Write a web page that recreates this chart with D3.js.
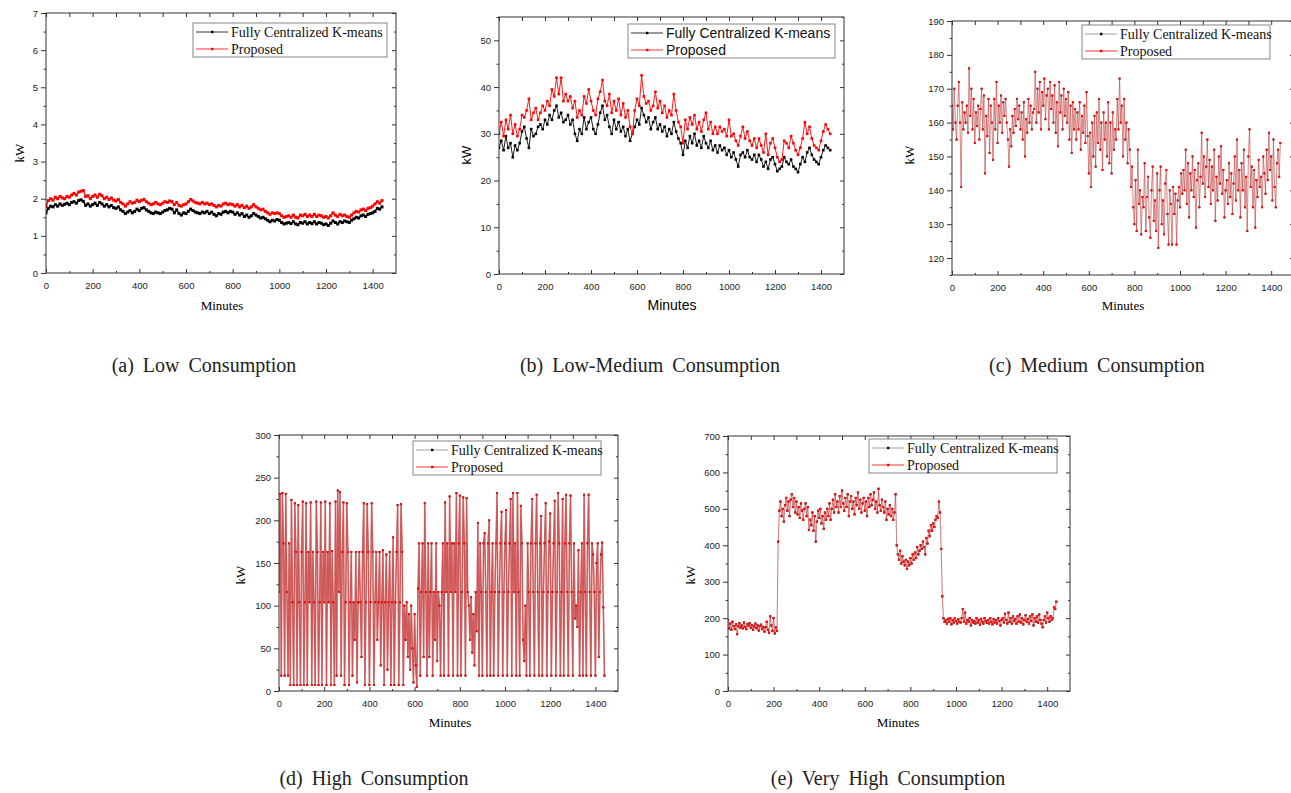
<!DOCTYPE html>
<html>
<head>
<meta charset="utf-8">
<script src="https://cdn.jsdelivr.net/npm/d3@7"></script>
<style>
  body { margin: 0; background: #fff; }
  svg { display: block; }
</style>
</head>
<body>
<div id="chart"></div>
<script>
// Series values read off the picture (kW). Low/low-medium sampled every 10 min,
// the others every 5 min. In (c)-(e) the two series overlap completely.
const lowCentral = [
  1.62,1.74,1.80,1.78,1.84,1.80,1.86,1.82,1.85,1.88,1.84,1.90,1.92,1.88,1.95,1.97,1.93,1.82,1.86,1.80,
  1.84,1.88,1.82,1.90,1.86,1.80,1.84,1.78,1.82,1.76,1.74,1.78,1.70,1.66,1.60,1.64,1.68,1.62,1.66,1.72,
  1.68,1.74,1.76,1.70,1.66,1.62,1.60,1.64,1.62,1.60,1.64,1.68,1.70,1.74,1.72,1.62,1.70,1.60,1.56,1.62,
  1.60,1.66,1.72,1.68,1.64,1.62,1.60,1.64,1.62,1.66,1.60,1.64,1.58,1.54,1.60,1.58,1.64,1.66,1.62,1.66,
  1.64,1.58,1.62,1.56,1.60,1.52,1.56,1.50,1.54,1.60,1.56,1.52,1.48,1.50,1.46,1.42,1.38,1.42,1.40,1.44,
  1.42,1.36,1.32,1.34,1.36,1.33,1.38,1.32,1.30,1.36,1.34,1.38,1.32,1.36,1.33,1.38,1.32,1.36,1.34,1.30,
  1.32,1.28,1.34,1.40,1.36,1.32,1.38,1.36,1.40,1.38,1.36,1.42,1.46,1.50,1.48,1.54,1.56,1.52,1.58,1.60,
  1.62,1.66,1.74,1.72,1.78
];
const lowProposed = [
  1.80,1.95,2.00,1.96,2.04,2.00,2.06,2.02,2.00,2.06,2.04,2.10,2.14,2.10,2.18,2.20,2.22,2.06,2.08,2.00,
  2.06,2.10,2.04,2.12,2.08,2.00,2.04,1.98,2.02,1.96,1.94,1.98,1.90,1.86,1.80,1.86,1.92,1.88,1.90,1.96,
  1.92,1.96,1.98,1.92,1.88,1.84,1.86,1.90,1.86,1.84,1.88,1.92,1.90,1.94,1.92,1.84,1.90,1.82,1.80,1.84,
  1.86,1.92,1.98,1.94,1.90,1.88,1.86,1.90,1.86,1.88,1.84,1.86,1.82,1.78,1.82,1.80,1.86,1.88,1.84,1.86,
  1.84,1.80,1.84,1.78,1.82,1.76,1.80,1.74,1.78,1.84,1.78,1.74,1.70,1.72,1.66,1.62,1.58,1.62,1.60,1.62,
  1.60,1.54,1.50,1.52,1.54,1.50,1.56,1.50,1.48,1.56,1.54,1.58,1.52,1.56,1.52,1.58,1.52,1.56,1.54,1.50,
  1.52,1.48,1.54,1.62,1.56,1.52,1.58,1.54,1.56,1.52,1.50,1.56,1.62,1.66,1.64,1.70,1.72,1.68,1.74,1.76,
  1.80,1.86,1.92,1.88,1.95
];
const lowMedCentral = [
  27.0,28.5,26.5,29.5,27.0,28.0,25.0,27.5,26.5,28.0,30.5,31.5,29.0,27.0,31.0,29.5,30.0,31.5,32.0,31.0,
  33.0,32.0,34.0,33.0,35.0,36.0,33.5,34.5,32.5,33.0,34.0,32.0,33.0,30.0,28.5,31.0,30.0,33.5,31.0,32.5,
  33.5,31.0,30.0,32.0,34.5,36.0,33.0,34.0,31.5,30.0,33.0,31.0,32.5,30.5,31.5,29.5,31.0,28.5,30.0,31.5,
  33.0,32.0,35.5,34.0,32.5,33.5,31.0,32.5,33.5,31.0,32.0,30.5,31.5,29.5,31.0,30.0,32.5,30.5,29.0,28.0,
  25.5,28.5,27.0,29.5,28.0,30.0,27.5,28.5,27.0,29.5,28.0,27.0,28.5,26.5,27.5,26.0,27.5,26.5,27.0,25.5,
  26.5,25.0,26.0,24.5,23.0,25.5,26.0,25.0,26.5,25.0,24.5,25.5,24.0,25.5,24.5,23.0,24.0,22.5,24.5,25.0,
  23.5,22.0,22.5,23.0,25.0,24.0,23.5,24.5,23.0,22.5,21.8,23.5,25.0,24.0,26.0,27.0,25.5,24.5,24.0,23.5,
  25.0,26.5,27.5,27.0,26.5
];
const lowMedProposed = [
  30.0,32.5,29.5,33.0,31.0,34.0,30.0,32.0,29.5,31.0,34.0,33.5,35.0,37.5,33.0,34.5,35.5,33.0,34.5,36.0,
  35.0,37.0,36.0,39.5,38.0,42.0,38.5,42.0,37.0,38.5,37.0,38.0,35.5,37.0,33.5,35.0,34.0,38.0,36.5,39.5,
  37.0,35.0,34.0,37.5,39.0,41.5,37.0,36.0,38.5,34.5,37.0,35.0,37.5,34.0,36.5,33.5,35.0,31.5,30.0,35.0,
  37.5,36.0,42.5,38.0,36.5,37.0,35.0,36.0,39.0,35.5,37.0,34.5,36.0,33.5,35.0,34.0,38.5,35.0,32.5,31.5,
  28.0,33.0,31.0,33.5,32.0,34.0,31.0,32.5,30.5,33.0,34.5,31.0,32.5,30.0,31.5,30.0,31.5,30.5,31.0,29.5,
  33.0,29.5,30.0,28.5,27.5,29.5,31.5,29.0,30.5,28.5,27.5,29.0,27.0,29.0,27.5,26.0,30.0,25.5,28.0,29.0,
  27.0,25.0,24.0,24.5,28.5,28.0,27.0,29.5,28.0,26.5,25.5,27.0,29.0,32.5,30.0,31.5,29.0,27.5,27.0,26.5,
  28.5,30.5,32.0,31.0,30.0
];
const mediumProposed = [
  165,158,170,160,155,165,172,160,141,166,158,163,
  160,165,157,176,162,170,158,167,154,163,159,165,
  155,164,170,158,168,145,162,156,167,151,165,160,
  149,167,158,172,154,165,160,168,157,166,162,167,
  160,155,147,158,153,162,157,164,159,167,161,165,
  158,163,155,166,150,161,157,167,160,165,158,163,
  164,175,160,170,163,172,158,169,165,173,161,168,
  170,158,172,164,168,160,171,157,166,153,172,163,
  168,158,170,162,167,160,169,155,165,151,166,158,
  164,155,163,158,166,152,162,157,165,154,169,156,
  145,157,141,160,150,162,147,163,154,167,152,160,
  146,163,155,160,150,166,148,160,145,163,152,158,
  155,167,158,173,160,165,150,167,155,160,148,158,
  152,141,147,135,130,143,128,152,136,140,127,138,
  135,148,128,138,144,132,126,140,147,131,137,128,
  145,123,140,147,130,137,127,142,146,133,124,140,
  136,124,141,133,139,124,137,141,135,145,139,146,
  140,152,136,148,132,145,140,150,138,146,129,143,
  148,135,144,157,142,150,138,147,155,141,149,136,
  147,140,152,131,144,137,150,142,153,139,146,132,
  140,143,136,148,138,145,133,142,150,137,155,140,
  146,132,148,140,152,135,144,128,150,158,141,147,
  135,146,129,143,138,149,141,144,135,150,145,139,
  152,143,157,146,150,137,155,141,135,148,152,144,
  154
];
const mediumCentral = mediumProposed.slice();
const highProposed = [
  116,231,18,232,173,18,231,116,18,173,7,224,
  104,7,220,163,7,218,104,7,163,222,7,104,
  220,7,163,104,221,7,163,104,7,222,163,7,
  104,221,7,163,104,222,7,163,104,220,7,164,
  104,7,222,18,235,116,233,18,163,221,7,104,
  220,163,7,104,163,18,104,60,163,10,104,163,
  104,40,163,220,7,104,219,163,7,104,220,163,
  7,104,163,60,104,163,30,104,165,7,104,160,
  25,104,163,7,104,180,7,104,163,218,7,104,
  219,163,7,100,60,104,40,90,25,100,50,10,
  90,30,5,120,173,18,116,173,40,220,116,18,
  173,40,116,173,18,116,60,173,35,116,100,18,
  116,173,18,221,116,173,18,228,116,173,18,173,
  116,232,18,173,229,18,116,227,173,18,226,116,
  100,60,110,45,90,30,116,70,197,18,173,116,
  18,173,185,116,18,173,200,18,116,173,18,116,
  173,232,18,116,173,210,18,116,173,212,18,116,
  173,225,18,232,116,173,18,232,116,18,217,173,
  60,35,100,18,173,116,18,173,225,116,18,173,
  230,116,18,173,205,18,116,173,220,18,116,175,
  208,18,116,173,223,18,116,232,173,18,116,225,
  18,173,230,116,18,173,229,116,18,173,85,100,
  75,165,18,116,173,18,230,116,18,173,230,116,
  18,173,160,116,18,150,173,40,116,160,174,98,
  18
];
const highCentral = highProposed.slice();
const veryHighProposed = [
  195,172,185,168,190,178,170,183,156,178,186,174,
  180,172,188,176,170,184,179,186,173,181,168,177,
  185,172,180,166,178,182,170,176,163,175,190,168,
  160,205,180,165,200,158,175,165,410,495,520,480,
  500,465,510,530,495,520,480,525,540,505,530,490,
  520,485,505,475,515,495,470,500,515,480,505,442,
  470,455,490,440,480,410,465,495,475,500,460,480,
  445,490,470,500,480,515,470,500,525,490,540,505,
  520,490,535,505,550,515,495,530,505,540,480,520,
  535,500,520,485,530,510,545,500,525,490,515,530,
  495,520,480,530,505,540,510,525,545,500,520,490,
  555,510,495,525,505,490,520,470,500,485,510,480,
  500,470,490,540,400,375,360,385,350,370,355,345,
  360,335,355,345,365,350,375,360,380,365,395,375,
  385,400,390,410,395,375,420,405,440,425,455,440,
  460,450,470,480,475,520,490,390,260,200,190,195,
  185,198,190,200,183,195,188,200,192,185,197,190,
  188,200,225,190,215,185,195,190,200,180,195,188,
  192,185,200,188,195,182,198,190,185,200,192,187,
  195,185,200,190,183,197,188,195,185,200,192,180,
  195,200,188,212,195,185,215,190,200,185,205,192,
  198,185,205,190,210,188,200,183,195,208,190,198,
  185,205,192,210,180,200,190,205,188,210,195,185,
  175,195,205,188,215,200,190,205,195,200,230,225,
  245
];
const veryHighCentral = veryHighProposed.slice();

const seriesNames = ["Fully Centralized K-means", "Proposed"];
const captions = ["(a) Low Consumption", "(b) Low-Medium Consumption", "(c) Medium Consumption",
                  "(d) High Consumption", "(e) Very High Consumption"];
const xTicks = [0, 200, 400, 600, 800, 1000, 1200, 1400];

const SERIF = "'Liberation Serif', 'Times New Roman', serif";
const SANS = "'Liberation Sans', Arial, sans-serif";

const svg = d3.select("#chart").append("svg")
    .attr("width", 1291)
    .attr("height", 793);
svg.append("rect").attr("width", 1291).attr("height", 793).attr("fill", "#fff");

const panels = [
  { central: lowCentral, proposed: lowProposed, step: 10, l: 46, r: 396, t: 13, b: 273,
    yDom: [0, 7], yStep: 1, font: SERIF, overlap: false, ms: 3, lw: 1.4,
    leg: [193, 23, 194, 34], ylab: [19, 153], xlab: [222, 310], cap: [204, 372] },
  { central: lowMedCentral, proposed: lowMedProposed, step: 10, l: 499, r: 844, t: 17, b: 274,
    yDom: [0, 55], yStep: 10, font: SANS, overlap: false, ms: 2.6, lw: 0.9,
    leg: [628, 24, 207, 34], ylab: [466, 155], xlab: [672, 310], cap: [650, 372] },
  { central: mediumCentral, proposed: mediumProposed, step: 5, l: 952, r: 1294, t: 21, b: 275,
    yDom: [115, 190], yStep: 10, font: SERIF, overlap: true, ms: 2, lw: 0.7,
    leg: [1082, 25, 188, 34], ylab: [909, 155], xlab: [1123, 310], cap: [1097, 372] },
  { central: highCentral, proposed: highProposed, step: 5, l: 279, r: 618, t: 435, b: 691,
    yDom: [0, 300], yStep: 50, font: SERIF, overlap: true, ms: 2, lw: 1.6,
    leg: [413, 441, 188, 34], ylab: [240, 575], xlab: [450, 727], cap: [374, 785] },
  { central: veryHighCentral, proposed: veryHighProposed, step: 5, l: 728, r: 1070, t: 436, b: 691,
    yDom: [0, 700], yStep: 100, font: SERIF, overlap: true, ms: 2.2, lw: 0.8,
    leg: [869, 439, 188, 34], ylab: [690, 575], xlab: [898, 727], cap: [888, 785] }
];

panels.forEach((p, k) => {
  const g = svg.append("g");
  const x = d3.scaleLinear().domain([0, 1500]).range([p.l, p.r]);
  const y = d3.scaleLinear().domain(p.yDom).range([p.b, p.t]);

  const yMajor = d3.range(Math.ceil(p.yDom[0] / p.yStep) * p.yStep, p.yDom[1] + 0.001, p.yStep);
  const yMinor = d3.range(p.yDom[0], p.yDom[1] + 0.001, p.yStep / 2).filter(v => !yMajor.some(m => Math.abs(m - v) < 1e-6));
  const xMinor = d3.range(100, 1500, 200);

  // series
  const clipId = "clip" + k;
  g.append("clipPath").attr("id", clipId).append("rect")
      .attr("x", p.l).attr("y", p.t).attr("width", p.r - p.l).attr("height", p.b - p.t);
  const plot = g.append("g").attr("clip-path", `url(#${clipId})`);
  const line = d3.line().x((d, i) => x(i * p.step)).y(d => y(d));

  const drawSeries = (data, lineColor, lineWidth, lineOpacity, markColor, ms) => {
    plot.append("path").datum(data)
        .attr("d", line)
        .attr("fill", "none")
        .attr("stroke", lineColor)
        .attr("stroke-width", lineWidth)
        .attr("stroke-opacity", lineOpacity);
    plot.append("g").selectAll("rect")
        .data(data)
        .join("rect")
        .attr("x", (d, i) => x(i * p.step) - ms / 2)
        .attr("y", d => y(d) - ms / 2)
        .attr("width", ms)
        .attr("height", ms)
        .attr("fill", markColor);
  };

  if (p.overlap) {
    drawSeries(p.central, "#999", p.lw * 0.7, 0.8, "#000", p.ms * 0.9);
    drawSeries(p.proposed, "#e02020", p.lw, 0.6, "#f01010", p.ms);
  } else {
    drawSeries(p.central, "#000", p.lw, 1, "#000", p.ms);
    drawSeries(p.proposed, "#f00", p.lw, 1, "#f00", p.ms);
  }

  // axes
  const styleAxis = sel => {
    sel.select(".domain").remove();
    sel.selectAll(".tick line").attr("stroke", "#333");
    sel.selectAll(".tick text").attr("fill", "#222")
        .style("font-family", SANS).style("font-size", "9.5px");
  };
  g.append("g").attr("transform", `translate(0,${p.b})`)
      .call(d3.axisBottom(x).tickValues(xTicks).tickSize(-4).tickPadding(9).tickFormat(d3.format("d")))
      .call(styleAxis);
  g.append("g").attr("transform", `translate(0,${p.b})`)
      .call(d3.axisBottom(x).tickValues(xMinor).tickSize(-2).tickFormat(""))
      .call(styleAxis);
  g.append("g").attr("transform", `translate(0,${p.t})`)
      .call(d3.axisTop(x).tickValues(xTicks.concat(xMinor)).tickSize(-4).tickFormat(""))
      .call(styleAxis);
  g.append("g").attr("transform", `translate(${p.l},0)`)
      .call(d3.axisLeft(y).tickValues(yMajor).tickSize(5).tickPadding(3).tickFormat(d3.format("d")))
      .call(styleAxis);
  g.append("g").attr("transform", `translate(${p.l},0)`)
      .call(d3.axisLeft(y).tickValues(yMinor).tickSize(2.5).tickFormat(""))
      .call(styleAxis);
  g.append("g").attr("transform", `translate(${p.r},0)`)
      .call(d3.axisRight(y).tickValues(yMajor).tickSize(-4).tickFormat(""))
      .call(styleAxis);
  g.append("g").attr("transform", `translate(${p.r},0)`)
      .call(d3.axisRight(y).tickValues(yMinor).tickSize(-2).tickFormat(""))
      .call(styleAxis);

  g.append("rect")
      .attr("x", p.l).attr("y", p.t)
      .attr("width", p.r - p.l).attr("height", p.b - p.t)
      .attr("fill", "none").attr("stroke", "#333").attr("stroke-width", 1);

  // axis titles
  g.append("text")
      .attr("transform", `translate(${p.ylab[0]},${p.ylab[1]}) rotate(-90)`)
      .attr("text-anchor", "middle").attr("dy", "0.35em")
      .style("font-family", p.font).style("font-size", "13px")
      .text("kW");
  g.append("text")
      .attr("x", p.xlab[0]).attr("y", p.xlab[1])
      .attr("text-anchor", "middle")
      .style("font-family", p.font).style("font-size", p.font === SANS ? "14px" : "13px")
      .text("Minutes");

  // legend
  const [lx, ly, lw, lh] = p.leg;
  const leg = g.append("g");
  leg.append("rect").attr("x", lx).attr("y", ly).attr("width", lw).attr("height", lh)
      .attr("fill", "#fff").attr("stroke", "#666").attr("stroke-width", 0.8);
  const legColors = [p.overlap ? "#888" : "#000", "#f00"];
  const markColors = ["#000", "#f00"];
  seriesNames.forEach((name, i) => {
    const ry = ly + 9 + i * 17;
    leg.append("line").attr("x1", lx + 3).attr("x2", lx + 35).attr("y1", ry).attr("y2", ry)
        .attr("stroke", legColors[i]).attr("stroke-width", 0.8);
    leg.append("rect").attr("x", lx + 18).attr("y", ry - 1.2).attr("width", 2.4).attr("height", 2.4)
        .attr("fill", markColors[i]);
    leg.append("text").attr("x", lx + 38).attr("y", ry).attr("dy", "0.35em")
        .style("font-family", p.font).style("font-size", "14px")
        .attr("fill", "#111")
        .text(name);
  });

  // caption
  svg.append("text")
      .attr("x", p.cap[0]).attr("y", p.cap[1])
      .attr("text-anchor", "middle")
      .style("font-family", SERIF).style("font-size", "20px")
      .attr("fill", "#222")
      .style("word-spacing", "4px")
      .text(captions[k]);
});
</script>
</body>
</html>
